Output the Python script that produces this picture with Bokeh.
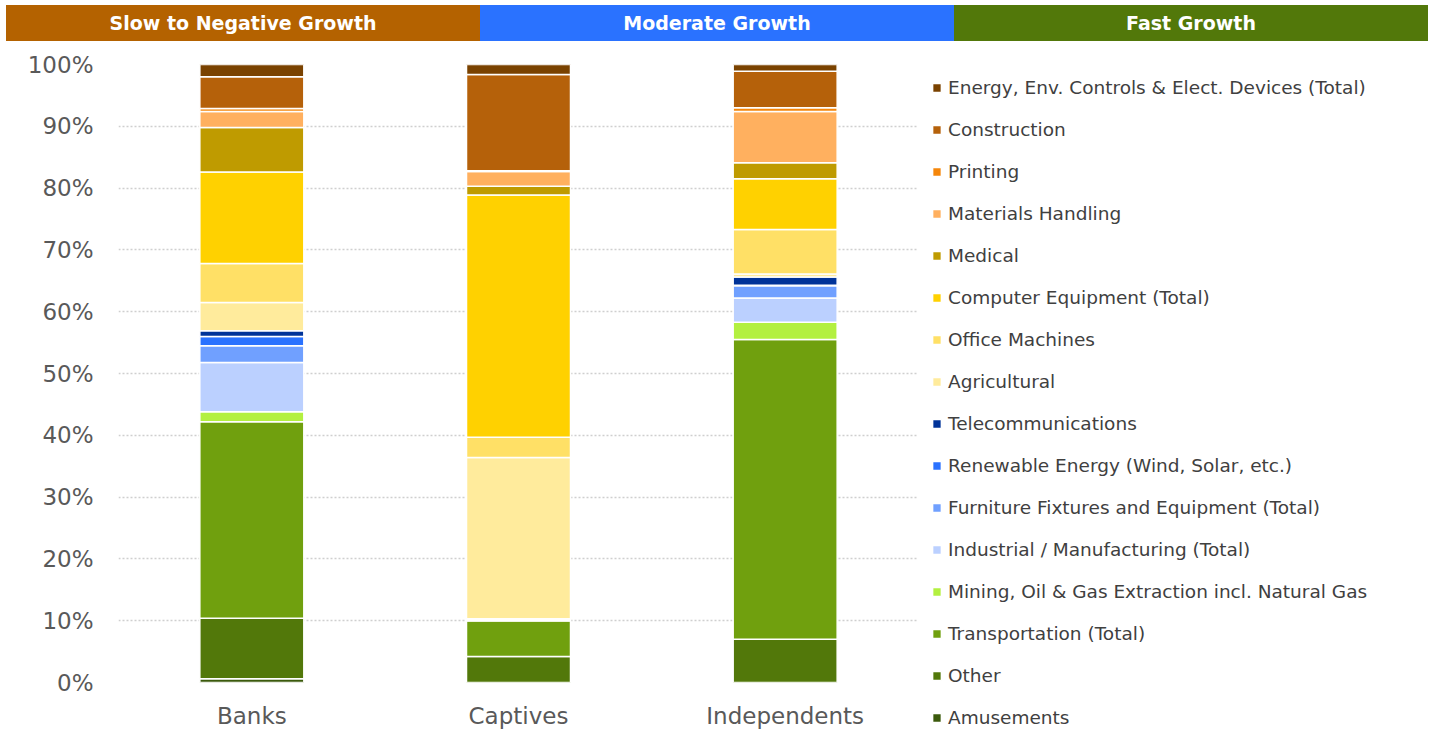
from bokeh.plotting import figure
from bokeh.layouts import column
from bokeh.models import (FactorRange, Range1d, FixedTicker, PrintfTickFormatter,
                          Legend, LegendItem, ColumnDataSource, Div)
from bokeh.core.properties import value
from bokeh.embed import file_html
from bokeh.resources import INLINE

FONT = "DejaVu Sans"

# ---------------- data ----------------
categories = ["Banks", "Captives", "Independents"]

header_groups = ["Slow to Negative Growth", "Moderate Growth", "Fast Growth"]
header_colors = ["#B46200", "#2A72FF", "#52780A"]

# stacking order: bottom -> top
sectors = [
    "Amusements",
    "Other",
    "Transportation (Total)",
    "Mining, Oil & Gas Extraction incl. Natural Gas",
    "Industrial / Manufacturing (Total)",
    "Furniture Fixtures and Equipment (Total)",
    "Renewable Energy (Wind, Solar, etc.)",
    "Telecommunications",
    "Agricultural",
    "Office Machines",
    "Computer Equipment (Total)",
    "Medical",
    "Materials Handling",
    "Printing",
    "Construction",
    "Energy, Env. Controls & Elect. Devices (Total)",
]
sector_colors = [
    "#3B5A0C", "#52780A", "#70A00E", "#B3F040", "#BBD0FF", "#70A0FF",
    "#2A72FF", "#003399", "#FFEB9C", "#FFE066", "#FFD100", "#BF9B00",
    "#FFB05F", "#F5860A", "#B5610A", "#7A4200",
]

amusements     = [0.6, 0.0, 0.0]
other          = [9.8, 4.2, 7.0]
transportation = [31.8, 5.8, 48.5]
mining         = [1.6, 0.0, 2.8]
industrial     = [8.0, 0.1, 3.9]
furniture      = [2.7, 0.2, 2.0]
renewable      = [1.5, 0.0, 0.1]
telecom        = [0.9, 0.0, 1.3]
agricultural   = [4.6, 26.1, 0.5]
office         = [6.3, 3.3, 7.2]
computer       = [14.8, 39.2, 8.2]
medical        = [7.2, 1.4, 2.6]
materials      = [2.6, 2.4, 8.3]
printing       = [0.5, 0.1, 0.6]
construction   = [5.1, 15.6, 5.9]
energy         = [2.0, 1.6, 1.2]

series = [amusements, other, transportation, mining, industrial, furniture,
          renewable, telecom, agricultural, office, computer, medical,
          materials, printing, construction, energy]

y_ticks = [0, 10, 20, 30, 40, 50, 60, 70, 80, 90, 100]

# ---------------- header (HTML band) ----------------
HW = 1422
cells = "".join(
    f'<div style="flex:1;background:{c};color:white;font-family:\'{FONT}\';'
    f'font-weight:bold;font-size:19px;line-height:36px;text-align:center;">{g}</div>'
    for g, c in zip(header_groups, header_colors))
hdr = Div(text=f'<div style="display:flex;width:{HW}px;height:36px;">{cells}</div>',
          width=HW, height=36, margin=(5, 0, 0, 6))

# ---------------- main chart ----------------
data = {"cat": categories}
for name, vals in zip(sectors, series):
    data[name] = vals
src = ColumnDataSource(data)

p = figure(frame_width=800, frame_height=618, x_range=FactorRange(*categories),
           y_range=Range1d(0, 100), output_backend="svg", toolbar_location=None,
           min_border_left=118, min_border_right=0, min_border_top=23,
           min_border_bottom=48, margin=0)
p.outline_line_color = None

rs = p.vbar_stack(sectors, x="cat", width=0.39, color=sector_colors,
                  line_color="white", line_width=1.5, source=src)

p.yaxis.ticker = FixedTicker(ticks=y_ticks)
p.yaxis.formatter = PrintfTickFormatter(format="%d%%")
for ax in (p.xaxis, p.yaxis):
    ax.axis_line_color = None
    ax.major_tick_line_color = None
    ax.minor_tick_line_color = None
    ax.major_tick_in = 0
    ax.major_tick_out = 0
    ax.major_label_text_font = FONT
    ax.major_label_text_color = "#595959"
p.yaxis.major_label_text_font_size = "23px"
p.yaxis.major_label_standoff = 25
p.xaxis.major_label_text_font_size = "23px"
p.xaxis.major_label_standoff = 20

p.xgrid.grid_line_color = None
p.ygrid.grid_line_color = "#CFCFCF"
p.ygrid.grid_line_dash = "2 2"
p.ygrid.grid_line_width = 1.3

items = [LegendItem(label=name, renderers=[r]) for name, r in zip(sectors, rs)]
items.reverse()
legend = Legend(items=items, location="top_left", margin=13, padding=0,
                spacing=21, glyph_width=11, glyph_height=11, label_height=20,
                label_standoff=6, label_text_font=FONT,
                label_text_font_size="18.5px", label_text_color="#404040",
                border_line_color=None, background_fill_alpha=0)
p.add_layout(legend, "right")

layout = column(hdr, p, spacing=0)
open("out.html", "w").write(file_html(layout, INLINE))
